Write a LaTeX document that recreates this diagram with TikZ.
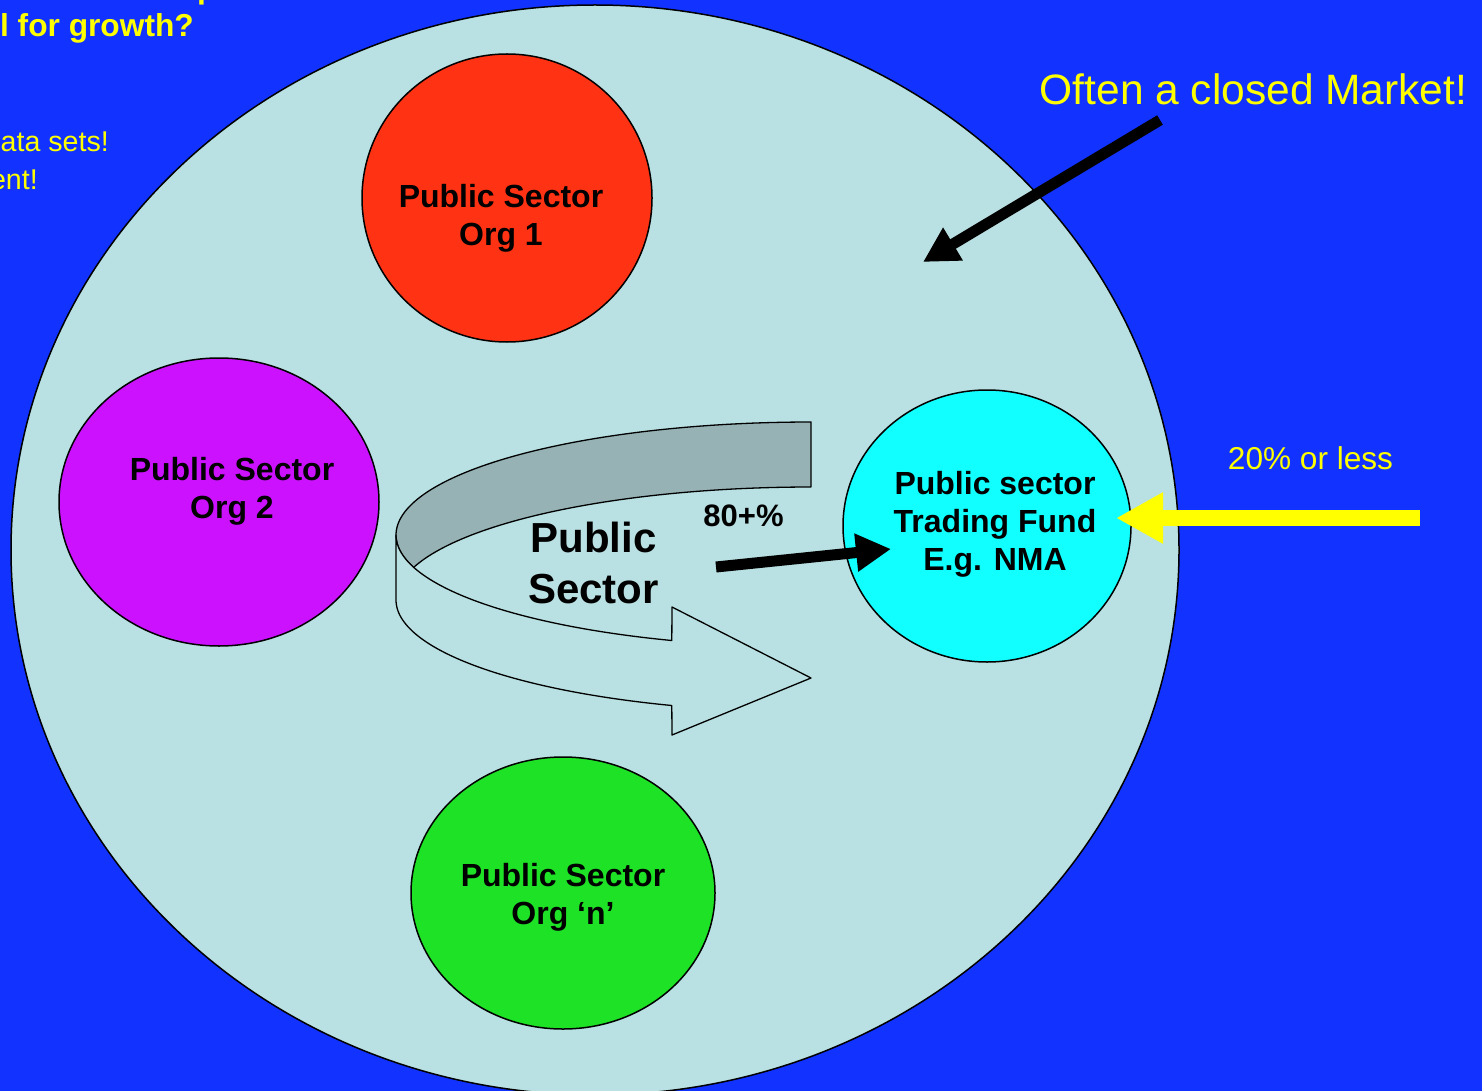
\documentclass[tikz,border=0pt]{standalone}
\usepackage{fontspec}
\setmainfont{Liberation Sans}
\usetikzlibrary{shapes.geometric,arrows.meta}
\definecolor{bg}{RGB}{18,51,255}
\definecolor{bigfill}{RGB}{185,224,226}
\definecolor{orgred}{RGB}{255,51,20}
\definecolor{orgmag}{RGB}{204,17,255}
\definecolor{orgcyan}{RGB}{17,255,255}
\definecolor{orggreen}{RGB}{30,226,38}
\definecolor{band}{RGB}{150,178,181}
\definecolor{yel}{RGB}{255,255,0}
\tikzset{
  blob/.style={ellipse, draw=black, line width=1.5pt, inner sep=0pt},
  orgtext/.style={font=\fontsize{32}{38}\selectfont\bfseries, align=center, inner sep=0pt},
  yeltext/.style={text=yel, inner sep=0pt},
  blackarrow/.style={draw=black, line width=11pt, -{Triangle[length=35pt,width=36pt]}},
  ribbon/.style={draw=black, line width=1.3pt, line join=round},
}
\begin{document}
\begin{tikzpicture}[x=1pt,y=-1pt]
\fill[bg] (0,0) rectangle (1482,1091);
\useasboundingbox (0,0) rectangle (1482,1091);
\clip (0,0) rectangle (1482,1091);

% top-left clipped title texts
\node[yeltext, anchor=base west, font=\fontsize{31.7}{38}\selectfont\bfseries] (tp) at (197,-1) {p};
\node[yeltext, anchor=base east, font=\fontsize{31.7}{38}\selectfont\bfseries] (tgrowth) at (194,37) {l for growth?};
\node[yeltext, anchor=base east, font=\fontsize{28.6}{34}\selectfont] (tsets) at (109,152) {ata sets!};
\node[yeltext, anchor=base east, font=\fontsize{28.6}{34}\selectfont] (tent) at (38,190) {ent!};

% the market
\node[blob, fill=bigfill, minimum width=1168pt, minimum height=1090pt] (market) at (595,550) {};

% organisations
\node[blob, fill=orgred, minimum width=290pt, minimum height=288pt] (org1) at (507,198) {};
\node[blob, fill=orgmag, minimum width=320pt, minimum height=288pt] (org2) at (219,502) {};
\node[blob, fill=orgcyan, minimum width=288pt, minimum height=272pt] (fund) at (987,526) {};
\node[blob, fill=orggreen, minimum width=304pt, minimum height=272pt] (orgn) at (563,893) {};

\node[orgtext] (org1t) at (501,218) {Public Sector\\Org 1};
\node[orgtext] (org2t) at (232,491) {Public Sector\\Org 2};
\node[orgtext] (orgnt) at (563,897) {Public Sector\\Org ‘n’};
\node[orgtext] (fundt) at (995,524) {Public sector\\Trading Fund\\E.g. NMA};

% curved ribbon arrow
\path[ribbon, fill=band] plot[domain=270:163.6, samples=80] ({811+415*cos(\x)},{535+113*sin(\x)})
  -- plot[domain=196.4:270, samples=60] ({811+415*cos(\x)},{600+113*sin(\x)}) -- cycle;
\path[ribbon, fill=bigfill] plot[domain=180:109.6, samples=80] ({811+415*cos(\x)},{535+112*sin(\x)})
  -- (672,607) -- (811,678) -- (672,735)
  -- plot[domain=109.6:180, samples=80] ({811+415*cos(\x)},{600+112*sin(\x)}) -- cycle;

\node[font=\fontsize{42}{51}\selectfont\bfseries, align=center, inner sep=0pt] (pst) at (593.5,563) {Public\\Sector};
\node[font=\fontsize{31}{36}\selectfont\bfseries, anchor=base, inner sep=0pt] (pct80) at (743.5,526) {80+\%};

% arrows
\coordinate (a1s) at (716,567);
\coordinate (a1e) at (891,549);
\draw[blackarrow] (a1s) -- (a1e);

\node[yeltext, font=\fontsize{42.5}{50}\selectfont, anchor=base] (closed) at (1253.5,105) {Often a closed Market!};
\coordinate (a2s) at (1160,120);
\coordinate (a2e) at (923,262);
\draw[blackarrow] (a2s) -- (a2e);

\node[yeltext, font=\fontsize{31.6}{38}\selectfont, anchor=base] (pct20) at (1310.5,469) {20\% or less};
\coordinate (a3s) at (1420,518);
\coordinate (a3e) at (1116,518);
\draw[draw=yel, line width=16pt, -{Triangle[length=47pt,width=48pt]}] (a3s) -- (a3e);
\end{tikzpicture}
\end{document}
